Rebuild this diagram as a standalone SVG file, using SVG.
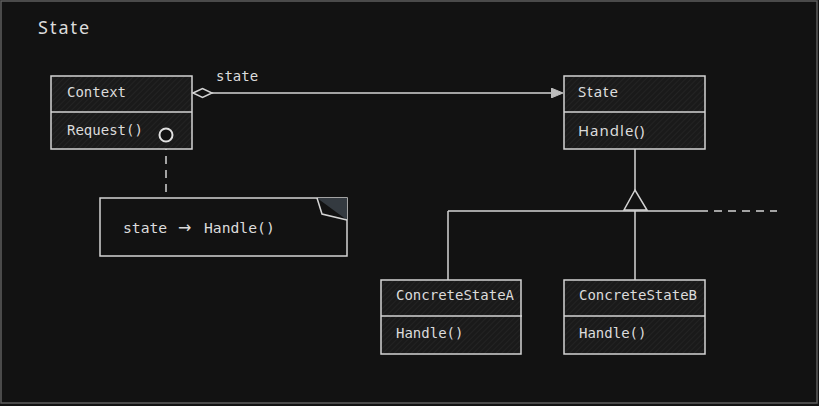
<svg xmlns="http://www.w3.org/2000/svg" width="819" height="406" viewBox="0 0 819 406">
<defs>
<pattern id="hatch" width="4" height="4" patternUnits="userSpaceOnUse" patternTransform="rotate(45)">
<rect width="4" height="4" fill="#1a1a1a"/>
<line x1="0" y1="0" x2="0" y2="4" stroke="#262626" stroke-width="1.5"/>
</pattern>
<marker id="arrow" viewBox="0 0 12 10" refX="11" refY="5" markerWidth="12" markerHeight="10" markerUnits="userSpaceOnUse" orient="auto">
<path d="M0,0 L12,5 L0,10 Z" fill="#bdbdbd" stroke="#bdbdbd" stroke-width="1"/>
</marker>
</defs>
<style>
.box{fill:url(#hatch);stroke:#d4d4d4;stroke-width:1.5}
.div{stroke:#d4d4d4;stroke-width:1.5}
.line{stroke:#d4d4d4;stroke-width:1.5;fill:none}
.mono{font-family:"DejaVu Sans Mono","Liberation Mono",monospace;font-size:14px;fill:#dcdcdc}
.hand{font-family:"Noto Sans","DejaVu Sans",sans-serif;font-size:15px;letter-spacing:1px;fill:#dcdcdc}
</style>
<rect x="0" y="0" width="819" height="406" fill="#121212"/>
<rect x="1" y="1" width="816" height="402" fill="none" stroke="#5e5e5e" stroke-width="1.5"/>
<text x="38" y="34" class="hand" style="font-size:18px;letter-spacing:2px">State</text>

<g id="connectors">
<line class="line" x1="212" y1="93" x2="562" y2="93" marker-end="url(#arrow)"/>
<path d="M193,93 L202.5,88.5 L212,93 L202.5,97.5 Z" fill="#121212" stroke="#d4d4d4" stroke-width="1.5"/>
<text x="216" y="81" class="mono">state</text>
<line class="line" x1="166" y1="142" x2="166" y2="198" stroke-dasharray="8,6"/>
<line class="line" x1="635" y1="149" x2="635" y2="190"/>
<path d="M635,190 L624,210 L647,210 Z" fill="#121212" stroke="#d4d4d4" stroke-width="1.5"/>
<line class="line" x1="448" y1="211" x2="700" y2="211"/>
<line class="line" x1="700" y1="211" x2="777" y2="211" stroke-dasharray="8,6"/>
<line class="line" x1="448" y1="211" x2="448" y2="280"/>
<line class="line" x1="635" y1="211" x2="635" y2="280"/>
</g>

<g id="context">
<rect class="box" x="51" y="76" width="141" height="73"/>
<line class="div" x1="51" y1="112" x2="192" y2="112"/>
<text x="67" y="97" class="mono">Context</text>
<text x="67" y="135" class="mono">Request()</text>
<circle cx="166" cy="135" r="6.5" fill="#121212" stroke="#e0e0e0" stroke-width="2"/>
</g>

<g id="note">
<rect x="100" y="198" width="247" height="58" fill="#121212" stroke="#d4d4d4" stroke-width="1.5"/>
<path d="M317,198 L347,198 L347,220 Z" fill="#343a40"/>
<path d="M317,198 L322,214 L347,220" fill="none" stroke="#d4d4d4" stroke-width="1.5"/>
<text x="123" y="233" style="font-family:'DejaVu Sans Mono','Liberation Mono',monospace;font-size:14.7px;fill:#dcdcdc">state <tspan x="178" style="font-family:'DejaVu Sans',sans-serif;font-size:16px">→</tspan> <tspan x="204">Handle()</tspan></text>
</g>

<g id="state">
<rect class="box" x="564" y="76" width="141" height="73"/>
<line class="div" x1="564" y1="112" x2="705" y2="112"/>
<text x="578" y="97" class="hand">State</text>
<text x="578" y="136" class="hand">Handle()</text>
</g>

<g id="concreteA">
<rect class="box" x="381" y="280" width="140" height="74"/>
<line class="div" x1="381" y1="316" x2="522" y2="316"/>
<text x="396" y="300" class="mono">ConcreteStateA</text>
<text x="396" y="338" class="mono">Handle()</text>
</g>

<g id="concreteB">
<rect class="box" x="564" y="280" width="141" height="74"/>
<line class="div" x1="564" y1="316" x2="705" y2="316"/>
<text x="579" y="300" class="mono">ConcreteStateB</text>
<text x="579" y="338" class="mono">Handle()</text>
</g>
</svg>
